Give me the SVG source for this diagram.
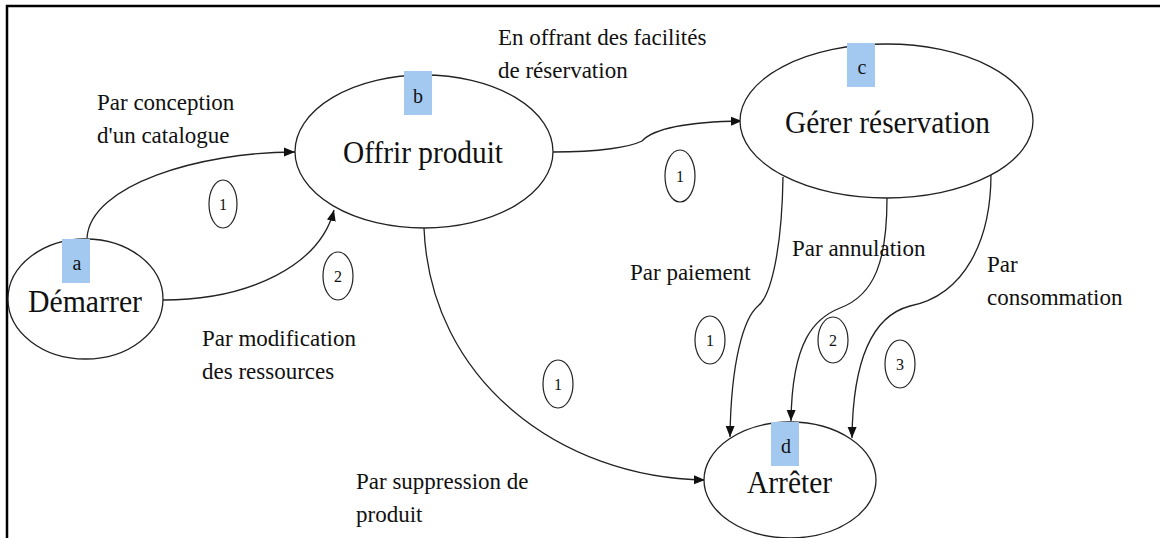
<svg xmlns="http://www.w3.org/2000/svg" width="1160" height="538" viewBox="0 0 1160 538">
<style>
text { font-family: "Liberation Serif", "Times New Roman", serif; fill: #111; }
.node { fill: #fff; stroke: #222; stroke-width: 1.3; }
.title { font-size: 32px; text-anchor: middle; }
.tag { fill: #a3c9f1; stroke: none; }
.tagt { font-size: 20px; text-anchor: middle; }
.lbl { font-size: 23px; }
.edge { fill: none; stroke: #222; stroke-width: 1.3; marker-end: url(#arr); }
.num { fill: #fff; stroke: #222; stroke-width: 1.2; }
.numt { font-size: 16px; text-anchor: middle; }
</style>
<defs>
<marker id="arr" markerUnits="userSpaceOnUse" markerWidth="12" markerHeight="10" refX="11" refY="5" orient="auto">
<path d="M0,0.5 L11,5 L0,9.5 Z" fill="#111"/>
</marker>
</defs>
<rect width="1160" height="538" fill="#fff"/>
<path d="M7,538 L7,6 L1160,6" fill="none" stroke="#000" stroke-width="2.5"/>

<g id="connectors">
<path class="edge" d="M87,238 C90,185 200,152 295,152"/>
<path class="edge" d="M163,300 C250,300 320,265 334,210"/>
<path class="edge" d="M553,152 C600,152 630,147 642,141 C652,130 680,122 742,121"/>
<path class="edge" d="M424,228 C430,380 560,478 705,480"/>
<path class="edge" d="M783,177 C782,245 772,295 758,306 C744,318 731,360 730,437"/>
<path class="edge" d="M887,198 C887,260 875,295 840,308 C815,318 792,340 791,421"/>
<path class="edge" d="M991,174 C991,240 965,295 910,306 C880,314 853,345 852,438"/>
</g>

<g id="node-demarrer">
<ellipse class="node" cx="85.5" cy="299" rx="77.5" ry="60"/>
<rect class="tag" x="62" y="239" width="28" height="44"/>
<text class="tagt" x="77" y="270">a</text>
<text class="title" x="85" y="312" textLength="114" lengthAdjust="spacingAndGlyphs">Démarrer</text>
</g>

<g id="node-offrir">
<ellipse class="node" cx="424" cy="151.5" rx="129" ry="76.5"/>
<rect class="tag" x="404" y="71" width="28" height="44"/>
<text class="tagt" x="418" y="103">b</text>
<text class="title" x="423" y="163" textLength="160" lengthAdjust="spacingAndGlyphs">Offrir produit</text>
</g>

<g id="node-gerer">
<ellipse class="node" cx="886.5" cy="121" rx="146.5" ry="77"/>
<rect class="tag" x="847" y="43" width="28" height="44"/>
<text class="tagt" x="862" y="74">c</text>
<text class="title" x="887.5" y="133" textLength="205" lengthAdjust="spacingAndGlyphs">Gérer réservation</text>
</g>

<g id="node-arreter">
<ellipse class="node" cx="790" cy="480" rx="86" ry="58"/>
<rect class="tag" x="771" y="422" width="28" height="44"/>
<text class="tagt" x="786" y="453">d</text>
<text class="title" x="789.5" y="493" textLength="85" lengthAdjust="spacingAndGlyphs">Arrêter</text>
</g>

<g id="edge-labels">
<text class="lbl" x="97" y="110">Par conception</text>
<text class="lbl" x="97" y="143">d'un catalogue</text>
<text class="lbl" x="202" y="346">Par modification</text>
<text class="lbl" x="202" y="379">des ressources</text>
<text class="lbl" x="498" y="45">En offrant des facilités</text>
<text class="lbl" x="498" y="78">de réservation</text>
<text class="lbl" x="630" y="280">Par paiement</text>
<text class="lbl" x="792" y="256">Par annulation</text>
<text class="lbl" x="987" y="272">Par</text>
<text class="lbl" x="987" y="305">consommation</text>
<text class="lbl" x="356" y="489">Par suppression de</text>
<text class="lbl" x="356" y="522">produit</text>
</g>

<g id="edge-numbers">
<ellipse class="num" cx="223" cy="204" rx="14" ry="24"/><text class="numt" x="223" y="210">1</text>
<ellipse class="num" cx="338" cy="276" rx="15" ry="24"/><text class="numt" x="338" y="282">2</text>
<ellipse class="num" cx="680" cy="176" rx="15" ry="26"/><text class="numt" x="680" y="182">1</text>
<ellipse class="num" cx="710" cy="340" rx="15" ry="24"/><text class="numt" x="710" y="346">1</text>
<ellipse class="num" cx="833" cy="340" rx="15" ry="23"/><text class="numt" x="833" y="346">2</text>
<ellipse class="num" cx="900" cy="364" rx="15" ry="24"/><text class="numt" x="900" y="370">3</text>
<ellipse class="num" cx="558" cy="384" rx="15" ry="24"/><text class="numt" x="558" y="390">1</text>
</g>
</svg>
